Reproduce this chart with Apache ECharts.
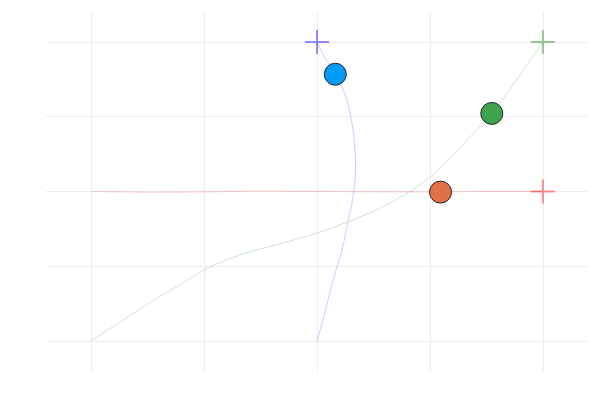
<!DOCTYPE html>
<html>
<head>
<meta charset="utf-8">
<script src="https://cdn.jsdelivr.net/npm/echarts@6/dist/echarts.min.js"></script>
<style>html,body{margin:0;padding:0;background:#fff}#chart{width:600px;height:400px}</style>
</head>
<body>
<div id="chart"></div>
<script>
// Paths (data coordinates)
const bluePath = [[0,-1],[0.017,-0.91],[0.034,-0.813],[0.06,-0.66],[0.088,-0.503],[0.111,-0.391],[0.137,-0.203],[0.152,-0.1],[0.163,0],[0.169,0.09],[0.171,0.187],[0.168,0.28],[0.162,0.38],[0.152,0.48],[0.135,0.6],[0.11,0.7],[0.081,0.784],[0.045,0.87],[0.02,0.935],[0,1]];
const redPath = [[-1,0],[-0.75,-0.004],[-0.5,-0.003],[-0.25,0.003],[0,0],[0.25,-0.002],[0.5,-0.003],[0.75,0],[1,0]];
const greenPath = [[-1,-1],[-0.87,-0.87],[-0.733,-0.736],[-0.65,-0.66],[-0.585,-0.603],[-0.5,-0.525],[-0.43,-0.475],[-0.364,-0.437],[-0.29,-0.40],[-0.217,-0.372],[-0.14,-0.34],[-0.077,-0.313],[0.012,-0.272],[0.08,-0.235],[0.159,-0.19],[0.28,-0.11],[0.396,-0.015],[0.499,0.095],[0.57,0.195],[0.631,0.29],[0.70,0.40],[0.774,0.52],[0.84,0.655],[0.897,0.775],[0.95,0.89],[1,1]];
// End crosses
const blueEnd = [[0,1]];
const redEnd = [[1,0]];
const greenEnd = [[1,1]];
// Current positions
const bluePoint = [[0.081,0.784]];
const redPoint = [[0.547,-0.004]];
const greenPoint = [[0.774,0.522]];
// Axis range and grid ticks
const axisMin = -1.2, axisMax = 1.2;
const xTicks = [-1, -0.5, 0, 0.5, 1];
const yTicks = [-1, -0.5, 0, 0.5, 1];

const plus = 'path://M-1,-12 L1,-12 L1,-1 L12,-1 L12,1 L1,1 L1,12 L-1,12 L-1,1 L-12,1 L-12,-1 L-1,-1 Z';

function axis() {
  return {
    type: 'value', min: axisMin, max: axisMax,
    axisLine: {show: false}, axisTick: {show: false}, axisLabel: {show: false},
    splitLine: {show: false}
  };
}
function line(data, color) {
  return {type: 'line', data: data, smooth: 0.3, symbol: 'none', lineStyle: {color: color, width: 1}, silent: true, z: 2};
}
function cross(data, color) {
  return {type: 'scatter', data: data, symbol: plus, symbolSize: 24, itemStyle: {color: color}, z: 3, silent: true};
}
function dot(data, color) {
  return {type: 'scatter', data: data, symbol: 'circle', symbolSize: 22, itemStyle: {color: color, borderColor: '#262626', borderWidth: 1, opacity: 1}, z: 4, silent: true};
}

const gridLines = xTicks.map(v => ({xAxis: v})).concat(yTicks.map(v => ({yAxis: v})));

const chart = echarts.init(document.getElementById('chart'));
chart.setOption({
  animation: false,
  backgroundColor: '#ffffff',
  grid: {left: 46, right: 12, top: 12, bottom: 29},
  xAxis: axis(),
  yAxis: axis(),
  series: [
    {
      type: 'line', data: redPath, smooth: 0.3, symbol: 'none', silent: true, z: 2,
      lineStyle: {color: 'rgba(255,0,0,0.2)', width: 1},
      markLine: {
        silent: true, z: 0, symbol: ['none', 'none'], animation: false,
        label: {show: false}, emphasis: {disabled: true},
        lineStyle: {color: '#ececec', width: 1, type: 'solid'},
        data: gridLines
      }
    },
    line(greenPath, 'rgba(0,128,0,0.2)'),
    line(bluePath, 'rgba(0,0,255,0.2)'),
    cross(blueEnd, 'rgba(0,0,255,0.55)'),
    cross(greenEnd, 'rgba(0,128,0,0.5)'),
    cross(redEnd, 'rgba(255,0,0,0.55)'),
    dot(bluePoint, '#009AFA'),
    dot(redPoint, '#E26F46'),
    dot(greenPoint, '#3EA44E')
  ]
});
</script>
</body>
</html>
